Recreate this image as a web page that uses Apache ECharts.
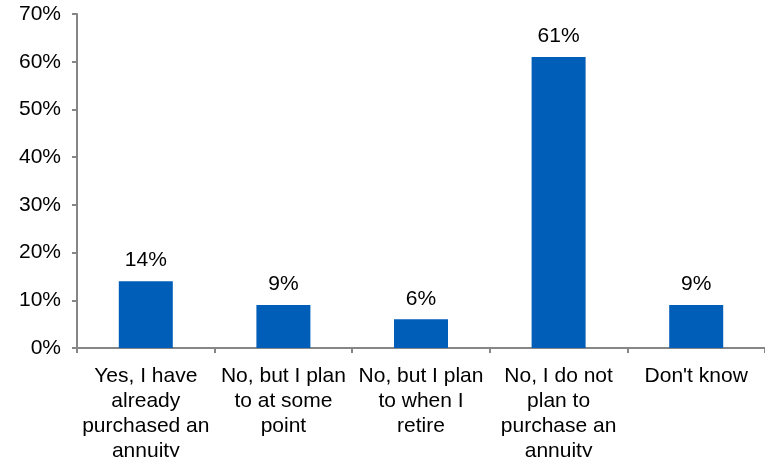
<!DOCTYPE html>
<html>
<head>
<meta charset="utf-8">
<script src="https://cdn.jsdelivr.net/npm/echarts@6/dist/echarts.min.js"></script>
<style>
  html, body { margin: 0; padding: 0; background: #fff; }
  #chart { width: 765px; height: 457px; }
</style>
</head>
<body>
<div id="chart"></div>
<script>
// Survey responses: annuity purchase plans
const categories = [
  "Yes, I have\nalready\npurchased an\nannuity",
  "No, but I plan\nto at some\npoint",
  "No, but I plan\nto when I\nretire",
  "No, I do not\nplan to\npurchase an\nannuity",
  "Don't know"
];
const shares = [14, 9, 6, 61, 9];
const yTicks = [0, 10, 20, 30, 40, 50, 60, 70];

const font = "Liberation Sans, Arial, sans-serif";
const axisGray = "#868686";

const chart = echarts.init(document.getElementById("chart"));
chart.setOption({
  animation: false,
  grid: {
    left: 77, right: 0, top: 14, bottom: 109,
    containLabel: false,
    outerBoundsMode: "none"
  },
  xAxis: {
    type: "category",
    data: categories,
    axisLine: { lineStyle: { color: axisGray, width: 2 } },
    axisTick: { show: true, length: 5, lineStyle: { color: axisGray, width: 2 } },
    axisLabel: {
      interval: 0,
      margin: 16,
      color: "#000",
      fontFamily: font,
      fontSize: 21,
      lineHeight: 25
    }
  },
  yAxis: {
    type: "value",
    min: yTicks[0],
    max: yTicks[yTicks.length - 1],
    interval: 10,
    splitLine: { show: false },
    axisLine: { show: true, lineStyle: { color: axisGray, width: 2 } },
    axisTick: { show: true, length: 5, lineStyle: { color: axisGray, width: 2 } },
    axisLabel: {
      margin: 16,
      color: "#000",
      fontFamily: font,
      fontSize: 21,
      formatter: v => v + "%"
    }
  },
  series: [{
    type: "bar",
    data: shares,
    barWidth: 54,
    itemStyle: { color: "#005EB8" },
    label: {
      show: true,
      position: "top",
      distance: 10,
      color: "#000",
      fontFamily: font,
      fontSize: 21,
      formatter: p => p.value + "%"
    }
  }]
});
</script>
</body>
</html>
